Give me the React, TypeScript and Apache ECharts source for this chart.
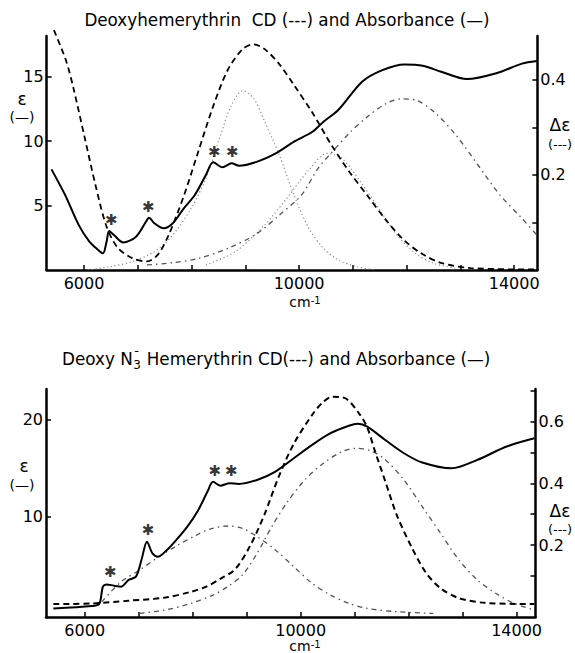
import React, { useEffect, useRef } from "react";
import * as echarts from "echarts";

const W = 575;
const H = 653;

// ---------- Top panel: Deoxyhemerythrin ----------
const topAbsWn = [5395, 5650, 5900, 6100, 6250, 6352, 6420, 6468, 6557, 6728, 6967, 7172, 7207, 7309, 7480, 7651, 7856, 8061, 8266, 8403, 8574, 8745, 8882, 9224, 9566, 9907, 10249, 10454, 10728, 11172, 11548, 11958, 12300, 12642, 13121, 13668, 14146, 14420];
const topAbsEps = [7.8, 5.8, 3.5, 2.2, 1.6, 1.29, 2.2, 3.02, 2.71, 2.14, 2.58, 3.88, 4.06, 3.62, 3.23, 3.62, 4.78, 5.81, 7.36, 8.35, 7.96, 8.27, 8.09, 8.4, 9.04, 9.95, 10.72, 11.5, 12.4, 14.6, 15.5, 15.94, 15.84, 15.37, 14.8, 15.25, 16.0, 16.2];

const topCdWn = [5440, 5668, 5805, 6010, 6215, 6420, 6626, 6899, 7172, 7378, 7583, 7856, 8130, 8403, 8677, 8950, 9155, 9360, 9634, 9907, 10249, 10591, 10933, 11275, 11617, 11958, 12300, 12642, 13189, 14420];
const topCdDeps = [0.505, 0.44, 0.382, 0.28, 0.178, 0.091, 0.047, 0.025, 0.018, 0.033, 0.076, 0.156, 0.251, 0.345, 0.422, 0.465, 0.475, 0.465, 0.433, 0.389, 0.331, 0.265, 0.207, 0.156, 0.105, 0.062, 0.033, 0.015, 0.004, 0.001];

const topGaussAWn = [6079, 6489, 6899, 7309, 7651, 7993, 8266, 8540, 8745, 8950, 9155, 9360, 9634, 9907, 10181, 10454, 10728, 11070, 11411];
const topGaussAVal = [0, 0.26, 0.65, 1.42, 2.71, 4.78, 7.1, 10.47, 12.8, 13.9, 13.3, 11.5, 8.9, 5.8, 3.23, 1.68, 0.78, 0.26, 0];

const topGaussBWn = [8266, 8813, 9360, 9771, 10181, 10523, 10796, 11138, 11480, 11822, 12163, 12505, 12915];
const topGaussBVal = [0.39, 1.42, 3.49, 5.56, 7.75, 9.04, 8.66, 6.85, 4.78, 2.71, 1.29, 0.52, 0.13];

const topGaussCWn = [7172, 7651, 8130, 8677, 9224, 9634, 10044, 10352, 10591, 10933, 11275, 11617, 11890, 12163, 12505, 12915, 13326, 13736, 14146, 14420];
const topGaussCVal = [0.39, 0.57, 0.9, 1.68, 2.84, 4.26, 5.81, 7.88, 9.04, 10.6, 11.9, 12.9, 13.26, 13.18, 12.27, 10.47, 8.14, 5.81, 4.0, 2.71];

const topStarWn = [6509, 7193, 8424, 8759];
const topStarVal = [3.88, 4.86, 9.12, 9.12];

// ---------- Bottom panel: Deoxy N3- Hemerythrin ----------
const botAbsWn = [5419, 6133, 6269, 6337, 6405, 6541, 6677, 6813, 6949, 7051, 7153, 7255, 7357, 7493, 7697, 7901, 8105, 8275, 8377, 8513, 8683, 8853, 9193, 9533, 9873, 10213, 10553, 10893, 11063, 11233, 11573, 11913, 12253, 12797, 13273, 13817, 14327];
const botAbsEps = [0.52, 0.77, 0.97, 2.77, 3.0, 2.87, 2.77, 3.46, 3.8, 5.52, 7.42, 6.21, 5.87, 6.39, 7.6, 8.97, 10.7, 12.6, 13.6, 13.2, 13.45, 13.39, 13.8, 14.66, 16.04, 17.42, 18.63, 19.4, 19.6, 19.3, 17.9, 16.56, 15.6, 15.0, 15.87, 17.25, 18.1];

const botCdWn = [5419, 6133, 6813, 7493, 7969, 8241, 8513, 8785, 9057, 9329, 9601, 9873, 10213, 10417, 10587, 10825, 11097, 11233, 11369, 11573, 11777, 12049, 12321, 12593, 12933, 13409, 14327];
const botCdDeps = [0.008, 0.01, 0.019, 0.029, 0.048, 0.064, 0.09, 0.121, 0.195, 0.299, 0.425, 0.529, 0.623, 0.665, 0.682, 0.677, 0.624, 0.582, 0.509, 0.404, 0.299, 0.195, 0.11, 0.059, 0.027, 0.012, 0.008];

const botGaussAWn = [6314, 6677, 7017, 7357, 7697, 8037, 8309, 8649, 8921, 9193, 9533, 9873, 10213, 10553, 10893, 11233, 11777, 12457];
const botGaussAVal = [1.2, 3.29, 4.49, 5.8, 6.97, 8.0, 8.7, 9.04, 8.8, 7.94, 6.56, 4.83, 3.11, 1.9, 1.04, 0.52, 0.18, 0];

const botGaussBWn = [7017, 7493, 7969, 8377, 8649, 8921, 9193, 9465, 9737, 10077, 10417, 10757, 11029, 11301, 11573, 11913, 12253, 12593, 12933, 13273, 13613, 13953, 14327];
const botGaussBVal = [0.01, 0.35, 1.04, 1.9, 2.77, 3.97, 6.21, 8.97, 11.39, 13.8, 15.5, 16.7, 17.07, 16.8, 15.87, 13.8, 11.04, 8.28, 5.52, 3.46, 2.08, 1.04, 0.35];

const botStarWn = [6473, 7173, 8411, 8717];
const botStarVal = [4.32, 8.63, 14.76, 14.76];

// ---------- Axis ticks / labels ----------
const xTicks = [6000, 7000, 8000, 9000, 10000, 11000, 12000, 13000, 14000];
const xLabels = [6000, 10000, 14000];
const topEpsTicks = [5, 10, 15];
const topDepsTicks = [0.1, 0.2, 0.3, 0.4];
const topDepsLabels = [0.2, 0.4];
const botEpsTicks = [10, 20];
const botDepsTicks = [0.1, 0.2, 0.3, 0.4, 0.5, 0.6, 0.7];
const botDepsLabels = [0.2, 0.4, 0.6];

const topTitle = "Deoxyhemerythrin  CD (---) and Absorbance (—)";
const botTitleA = "Deoxy N";
const botTitleSub = "3";
const botTitleB = " Hemerythrin CD(---) and Absorbance (—)";

const pairs = (xs: number[], ys: number[]) => xs.map((x, i) => [x, ys[i]]);

const FONT = "DejaVu Sans";

function measure(text: string, size: number): number {
  const c = document.createElement("canvas").getContext("2d");
  if (!c) return text.length * size * 0.6;
  c.font = `${size}px "${FONT}"`;
  return c.measureText(text).width;
}

export default function App() {
  const ref = useRef<HTMLDivElement>(null);

  useEffect(() => {
    document.body.style.margin = "0";
    const chart = echarts.init(ref.current!, null, { renderer: "svg", width: W, height: H });

    const axisLine = { show: true, onZero: false, lineStyle: { color: "#000", width: 2.5 } };
    const tickStyle = { color: "#000", width: 1.5 };

    const xAxis = (gridIndex: number, min: number, max: number) => ({
      type: "value",
      gridIndex,
      min,
      max,
      axisLine,
      splitLine: { show: false },
      axisTick: { show: true, inside: true, length: 5, lineStyle: tickStyle, customValues: xTicks },
      axisLabel: { show: true, customValues: xLabels, color: "#000", fontSize: 16, fontFamily: FONT, margin: 5, formatter: (v: number) => String(v) },
    });

    const yAxis = (gridIndex: number, position: string, min: number, max: number, ticks: number[], labels: number[]) => ({
      type: "value",
      gridIndex,
      position,
      min,
      max,
      axisLine,
      splitLine: { show: false },
      axisTick: { show: true, inside: true, length: 5, lineStyle: tickStyle, customValues: ticks },
      axisLabel: {
        show: true,
        customValues: labels,
        color: "#000",
        fontSize: 16,
        fontFamily: FONT,
        margin: 3,
        formatter: (v: number) => String(v),
      },
    });

    const solid = { color: "#000", width: 2, type: "solid" };
    const dashed = { color: "#000", width: 1.8, type: [6, 4] };
    const dotted = { color: "#8a8a8a", width: 1.2, type: [1.2, 2.6] };
    const dashdot = { color: "#555", width: 1.3, type: [5, 4, 1.5, 4] };

    const line = (name: string, xi: number, yi: number, data: number[][], lineStyle: any, extra: any = {}) => ({
      type: "line",
      name,
      xAxisIndex: xi,
      yAxisIndex: yi,
      data,
      showSymbol: false,
      symbol: "none",
      smooth: 0.3,
      lineStyle,
      silent: true,
      z: 3,
      ...extra,
    });

    const stars = (xi: number, yi: number, data: number[][]) => ({
      type: "scatter",
      xAxisIndex: xi,
      yAxisIndex: yi,
      data,
      symbolSize: 1,
      itemStyle: { color: "rgba(0,0,0,0)" },
      label: { show: true, position: "inside", formatter: "✱", color: "#000", fontSize: 15, fontWeight: "bold", fontFamily: FONT },
      silent: true,
      z: 5,
    });

    const tsize = 16.8;
    const botX0 = 62;
    const wA = measure(botTitleA, tsize);
    const w3 = measure(botTitleSub, 12);

    const txt = (text: string, x: number, y: number, size: number, align = "center", extra: any = {}) => ({
      type: "text",
      x,
      y,
      style: { text, fill: "#000", font: `${size}px "${FONT}"`, align, verticalAlign: "middle", ...extra },
      silent: true,
    });

    const cmLabel = (y: number) => ({
      type: "text",
      x: 305,
      y,
      style: {
        text: "cm{sup|-1}",
        fill: "#000",
        font: `14px "${FONT}"`,
        align: "center",
        verticalAlign: "middle",
        rich: { sup: { fontSize: 10, verticalAlign: "top", fontFamily: FONT } },
      },
      silent: true,
    });

    const option: any = {
      animation: false,
      backgroundColor: "#fff",
      grid: [
        { left: 46.7, right: W - 537.3, top: 36, height: 234 },
        { left: 46, right: W - 535.5, top: 389, height: 228 },
      ],
      xAxis: [xAxis(0, 5306, 14430), xAxis(1, 5283, 14350)],
      yAxis: [
        yAxis(0, "left", 0, 18.14, topEpsTicks, topEpsTicks),
        yAxis(0, "right", 0, 0.4926, topDepsTicks, topDepsLabels),
        yAxis(1, "left", -0.37, 23.2, botEpsTicks, botEpsTicks),
        yAxis(1, "right", -0.034, 0.707, botDepsTicks, botDepsLabels),
      ],
      series: [
        line("topGaussA", 0, 0, pairs(topGaussAWn, topGaussAVal), dotted),
        line("topGaussB", 0, 0, pairs(topGaussBWn, topGaussBVal), dotted),
        line("topGaussC", 0, 0, pairs(topGaussCWn, topGaussCVal), dashdot),
        line("topCD", 0, 1, pairs(topCdWn, topCdDeps), dashed, { clip: false }),
        line("topAbs", 0, 0, pairs(topAbsWn, topAbsEps), solid),
        stars(0, 0, pairs(topStarWn, topStarVal)),
        line("botGaussA", 1, 2, pairs(botGaussAWn, botGaussAVal), dashdot),
        line("botGaussB", 1, 2, pairs(botGaussBWn, botGaussBVal), dashdot),
        line("botCD", 1, 3, pairs(botCdWn, botCdDeps), { ...dashed, width: 2 }),
        line("botAbs", 1, 2, pairs(botAbsWn, botAbsEps), solid),
        stars(1, 2, pairs(botStarWn, botStarVal)),
      ],
      graphic: [
        txt(topTitle, 287, 20, tsize),
        txt(botTitleA, botX0, 359, tsize, "left"),
        txt(botTitleSub, botX0 + wA + 0.5, 365, 12, "left"),
        txt("-", botX0 + wA + 1.5, 350, 13, "left"),
        txt(botTitleB, botX0 + wA + w3 + 1, 359, tsize, "left"),
        // left axis names
        txt("ε", 22, 99, 17),
        txt("(—)", 22, 117, 14),
        txt("ε", 24, 466, 17),
        txt("(—)", 22, 485, 14),
        // right axis names
        txt("Δε", 560, 125, 17),
        txt("(---)", 560, 144, 13),
        txt("Δε", 560, 511, 17),
        txt("(---)", 560, 529, 13),
        // x axis names
        cmLabel(302),
        cmLabel(646),
      ],
    };

    chart.setOption(option);
    return () => chart.dispose();
  }, []);

  return <div ref={ref} style={{ width: W, height: H }} />;
}
